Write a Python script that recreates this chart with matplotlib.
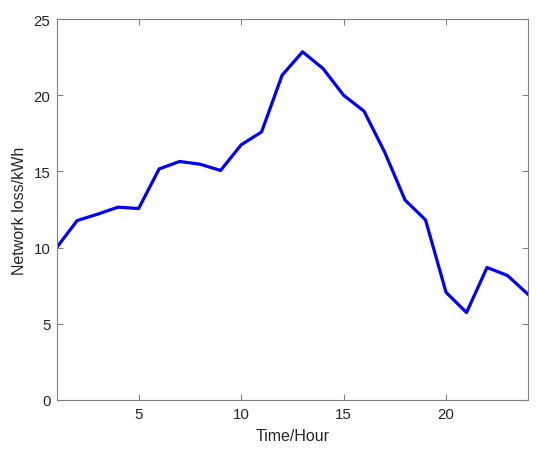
import matplotlib
matplotlib.use("Agg")
import matplotlib.pyplot as plt

hours = list(range(1, 25))
network_loss = [10.0, 11.77, 12.19, 12.65, 12.56, 15.16, 15.65, 15.47, 15.06, 16.74,
                17.59, 21.31, 22.85, 21.75, 20.0, 18.95, 16.28, 13.12, 11.81, 7.06,
                5.73, 8.69, 8.16, 6.93]

plt.rcParams['font.family'] = ['Liberation Sans', 'DejaVu Sans']

fig = plt.figure(figsize=(5.5, 4.56), dpi=100)
ax = fig.add_axes([0.103, 0.121, 0.857, 0.835])

ax.plot(hours, network_loss, color='#0000ff', linewidth=2.3)

ax.set_xlim(1, 24)
ax.set_ylim(0, 25)
ax.set_xticks([5, 10, 15, 20])
ax.set_yticks([0, 5, 10, 15, 20, 25])
ax.set_xlabel("Time/Hour", fontsize=11.5, color='#262626', labelpad=5)
ax.set_ylabel("Network loss/kWh", fontsize=11.5, color='#262626', labelpad=5)

for s in ax.spines.values():
    s.set_color('#808080')
    s.set_linewidth(0.8)
ax.tick_params(direction='in', length=4, width=0.8, color='#808080',
               labelcolor='#262626', labelsize=10.8, top=True, right=True)
ax.tick_params(axis='x', pad=5.5)
ax.tick_params(axis='y', pad=4.5)

fig.savefig("out.png", dpi=100)
